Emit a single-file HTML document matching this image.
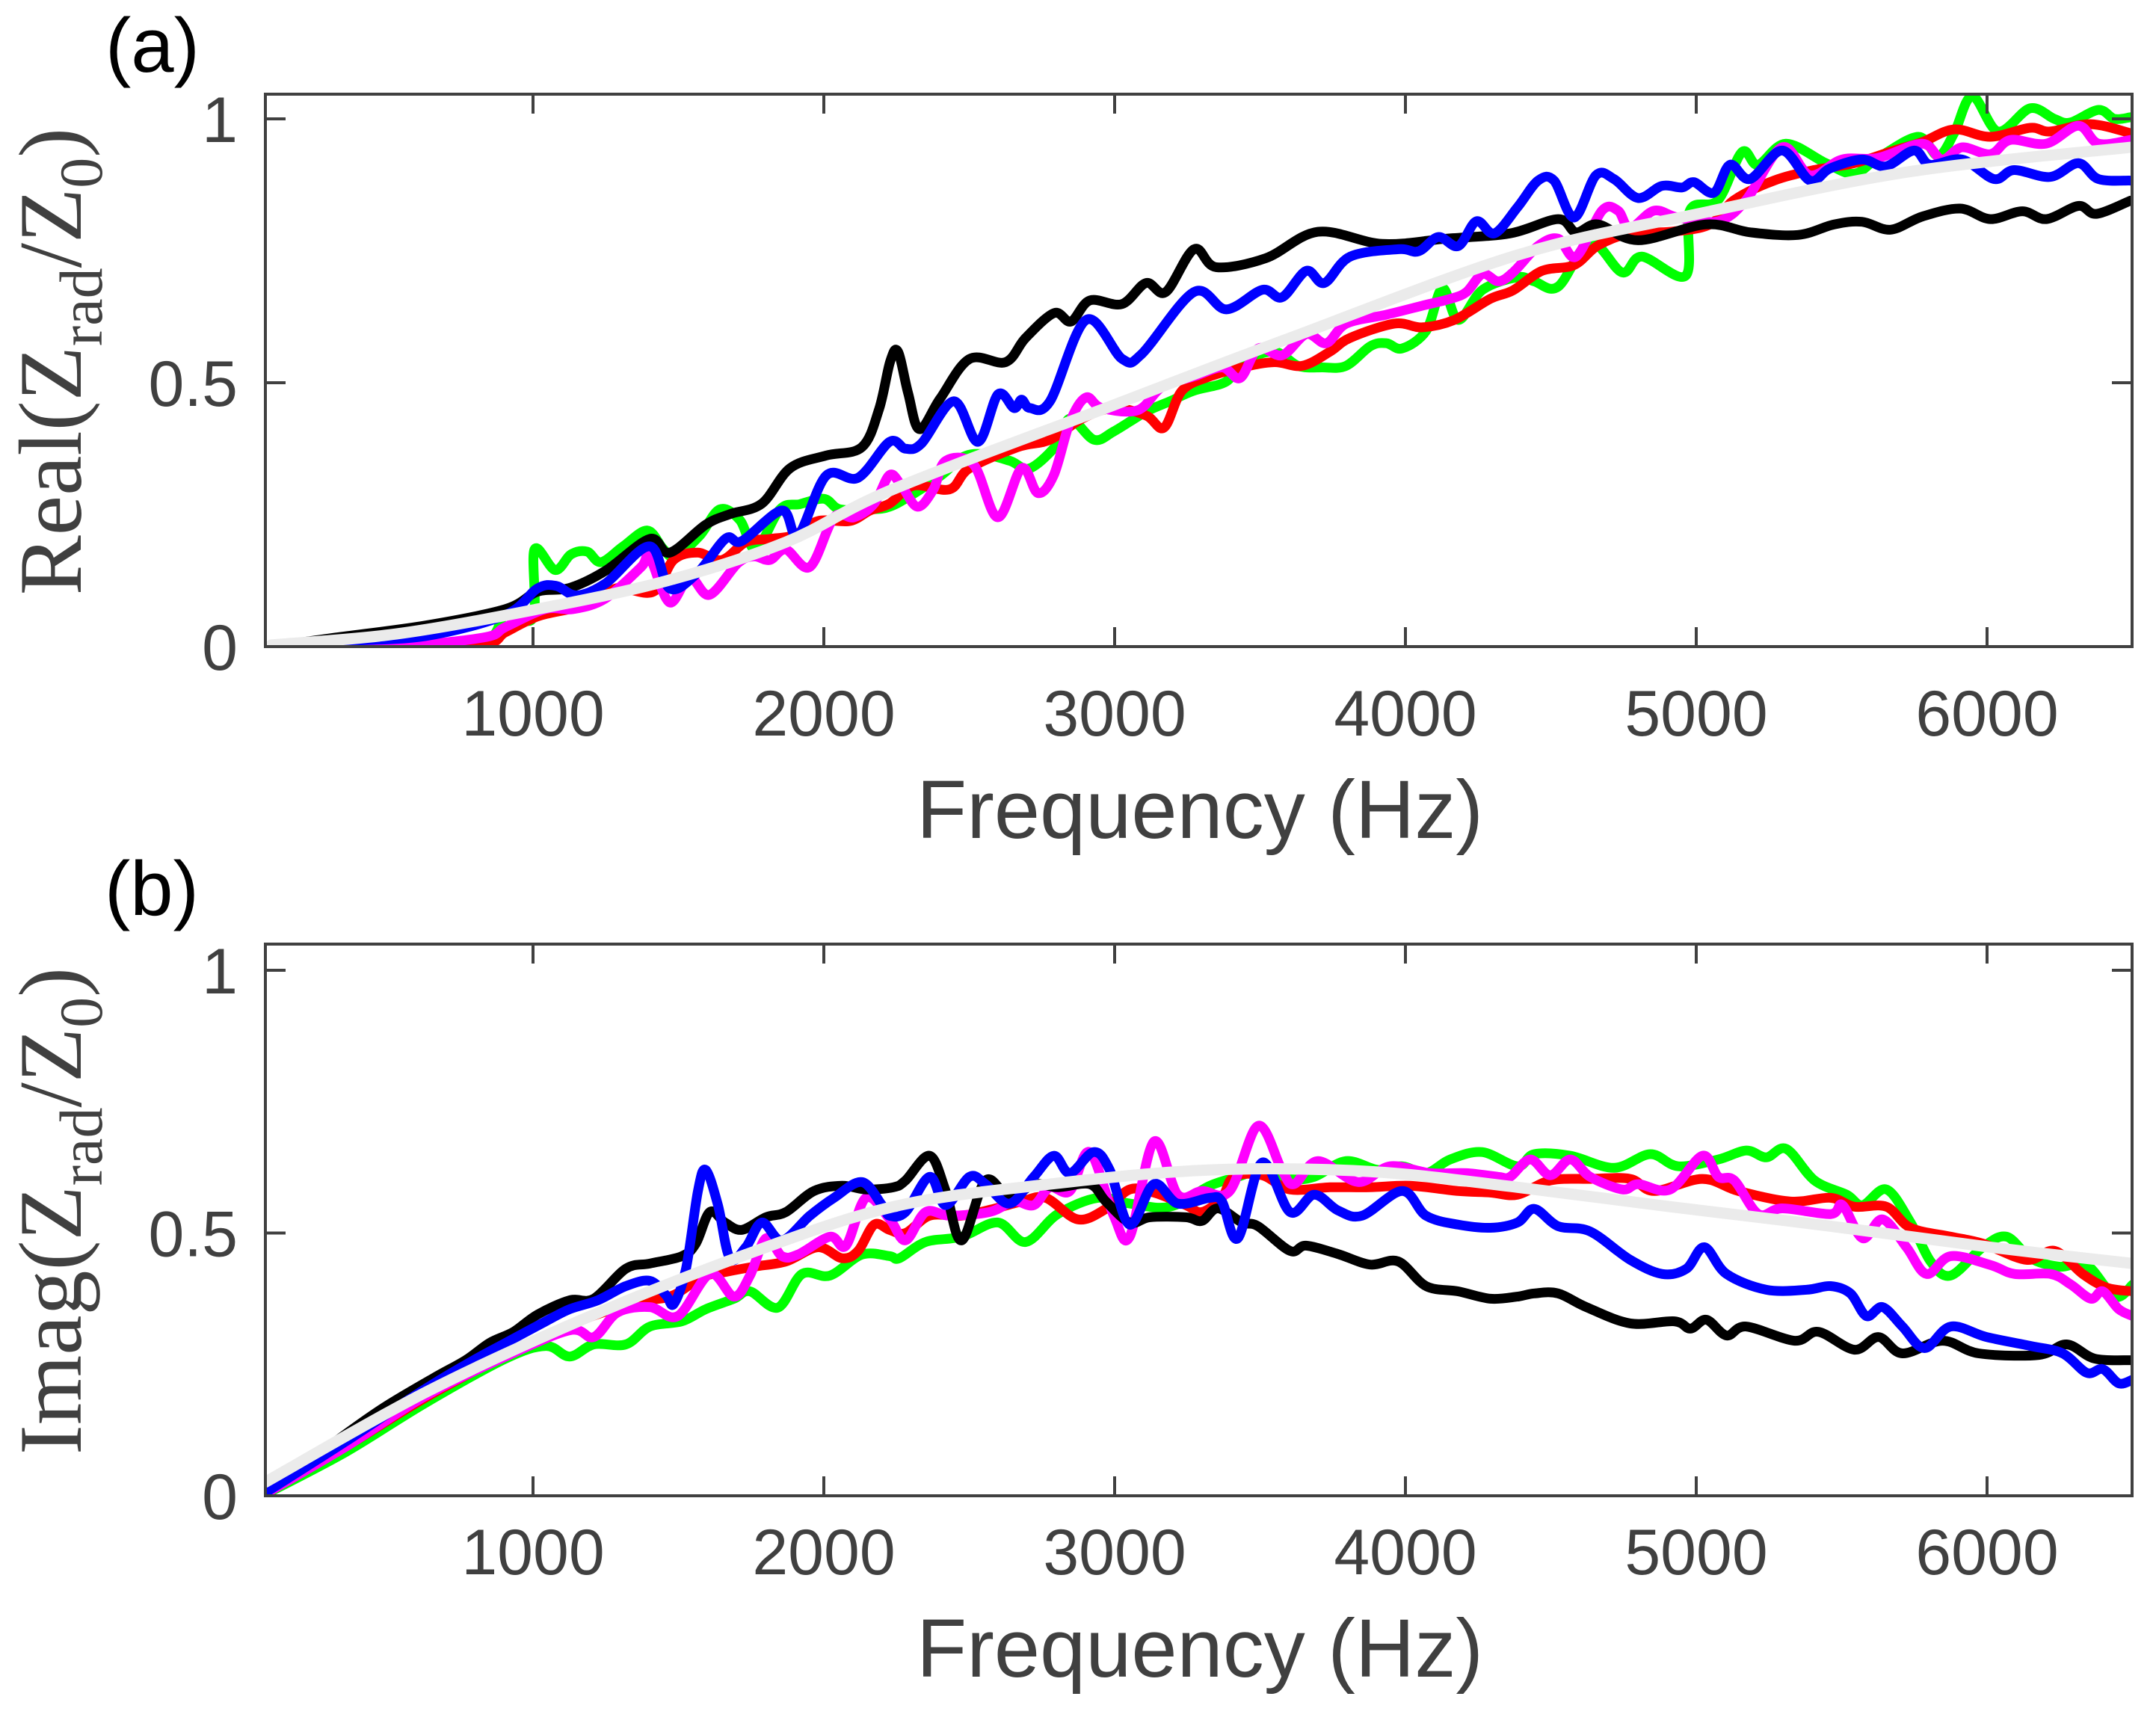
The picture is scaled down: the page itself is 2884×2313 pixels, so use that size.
<!DOCTYPE html>
<html><head><meta charset="utf-8"><style>
html,body{margin:0;padding:0;background:#fff;}
svg{display:block;}
text{font-family:"Liberation Sans",sans-serif;fill:#404040;}
</style></head><body>
<svg id="fig" width="2884" height="2313" viewBox="0 0 2884 2313" xmlns="http://www.w3.org/2000/svg">
<rect x="0" y="0" width="2884" height="2313" fill="#fff"/>
<defs>
<clipPath id="clipA"><rect x="355" y="126" width="2497" height="739"/></clipPath>
<clipPath id="clipB"><rect x="355" y="1263" width="2497" height="738"/></clipPath>
</defs>
<text x="141" y="96" font-size="103" style="fill:#000">(a)</text>
<text x="140" y="1224" font-size="103" style="fill:#000">(b)</text>
<g id="panelA"></g>
<g id="panelB"></g>
</svg>
<script>
// ---- Panel (a): Real part data ----
const xTicks = [1000,2000,3000,4000,5000,6000];
const yTicks = [0,0.5,1];
const yTickLabels = ["0","0.5","1"];

const aBlackF = [100,320,630,905,1015,1125,1250,1401,1470,1594,1677,1787,1884,2008,2131,2190,2228,2255,2290,2329,2400,2501,2625,2694,2792,2850,2915,3025,3108,3176,3273,3349,3520,3699,3920,4140,4360,4525,4587,4662,4800,5033,5185,5350,5474,5570,5668,5778,5908,6011,6121,6204,6314,6376,6493];
const aBlackV = [0,0.017,0.04,0.071,0.104,0.111,0.144,0.204,0.178,0.231,0.251,0.271,0.338,0.362,0.378,0.45,0.54,0.559,0.48,0.412,0.47,0.545,0.539,0.585,0.632,0.616,0.656,0.649,0.689,0.672,0.753,0.719,0.736,0.786,0.763,0.773,0.783,0.81,0.785,0.80,0.77,0.80,0.785,0.78,0.80,0.805,0.79,0.815,0.83,0.81,0.825,0.81,0.835,0.82,0.845];
const aBlueF = [100,320,630,905,1015,1080,1150,1250,1401,1470,1566,1663,1718,1856,1911,2008,2118,2226,2281,2336,2447,2530,2599,2654,2680,2709,2778,2902,3026,3094,3273,3384,3508,3576,3659,3721,3810,3976,4045,4113,4182,4244,4306,4386,4456,4511,4580,4655,4717,4800,4882,4951,4992,5061,5116,5185,5295,5391,5460,5570,5652,5749,5804,5914,6024,6093,6217,6314,6383,6493];
const aBlueV = [0,0.01,0.02,0.06,0.11,0.115,0.097,0.12,0.19,0.11,0.14,0.205,0.2,0.258,0.21,0.324,0.32,0.388,0.375,0.385,0.465,0.388,0.478,0.452,0.468,0.452,0.465,0.619,0.545,0.555,0.672,0.639,0.676,0.662,0.712,0.689,0.739,0.753,0.749,0.776,0.759,0.806,0.783,0.833,0.883,0.883,0.813,0.893,0.886,0.85,0.873,0.87,0.88,0.86,0.913,0.886,0.94,0.883,0.906,0.923,0.91,0.94,0.913,0.923,0.886,0.903,0.89,0.916,0.886,0.883];
const aGreenF = [100,500,827,905,1000,1005,1076,1131,1186,1234,1310,1393,1448,1490,1573,1642,1711,1766,1849,1918,2001,2056,2166,2226,2295,2405,2474,2543,2640,2709,2805,2847,2929,2998,3108,3191,3273,3383,3439,3549,3631,3714,3796,3879,3934,3989,4072,4127,4182,4265,4386,4443,4525,4635,4745,4813,4964,4978,5075,5157,5212,5308,5446,5543,5625,5763,5832,5887,5949,6038,6148,6231,6286,6383,6438,6493];
const aGreenV = [0,0,0.01,0.06,0.055,0.184,0.145,0.175,0.18,0.16,0.19,0.22,0.185,0.17,0.21,0.26,0.24,0.185,0.26,0.27,0.28,0.26,0.26,0.265,0.285,0.325,0.358,0.365,0.352,0.338,0.385,0.432,0.392,0.408,0.445,0.465,0.485,0.502,0.539,0.559,0.532,0.529,0.532,0.569,0.575,0.565,0.599,0.679,0.619,0.676,0.70,0.692,0.682,0.766,0.709,0.739,0.703,0.826,0.846,0.937,0.913,0.953,0.916,0.896,0.926,0.966,0.93,0.973,1.043,0.976,1.02,1.0,0.993,1.017,1.0,1.003];
const aRedF = [100,500,827,905,1015,1125,1221,1290,1414,1483,1566,1649,1732,1814,1897,1980,2090,2159,2226,2309,2433,2501,2667,2778,2888,2998,3108,3170,3232,3328,3439,3549,3645,3741,3810,3962,4058,4168,4292,4370,4470,4580,4662,4772,4910,5047,5130,5267,5405,5543,5680,5777,5887,6011,6148,6217,6355,6493];
const aRedV = [0,0,0.004,0.027,0.057,0.071,0.084,0.111,0.104,0.164,0.178,0.164,0.198,0.204,0.211,0.238,0.238,0.258,0.271,0.305,0.298,0.338,0.378,0.392,0.432,0.452,0.438,0.415,0.485,0.512,0.529,0.539,0.532,0.559,0.585,0.612,0.605,0.619,0.659,0.675,0.712,0.723,0.76,0.783,0.786,0.80,0.846,0.883,0.903,0.916,0.94,0.956,0.98,0.966,0.983,0.976,0.99,0.973];
const aMagF = [100,500,827,905,1042,1138,1248,1372,1400,1469,1538,1607,1704,1759,1814,1869,1952,2035,2104,2173,2226,2267,2322,2377,2419,2515,2598,2680,2736,2791,2846,2901,2956,3080,3163,3273,3370,3432,3494,3576,3659,3728,3797,3935,4058,4155,4210,4265,4320,4372,4456,4525,4587,4676,4731,4772,4855,4937,5075,5171,5295,5391,5501,5625,5777,5845,5914,6011,6080,6203,6314,6383,6493];
const aMagV = [0,0,0.017,0.037,0.071,0.071,0.091,0.151,0.171,0.084,0.131,0.098,0.158,0.171,0.164,0.184,0.151,0.245,0.245,0.271,0.325,0.305,0.265,0.298,0.352,0.345,0.245,0.338,0.291,0.325,0.425,0.472,0.452,0.448,0.492,0.512,0.529,0.509,0.565,0.552,0.592,0.575,0.612,0.629,0.646,0.659,0.672,0.706,0.692,0.71,0.759,0.773,0.739,0.826,0.826,0.793,0.826,0.813,0.806,0.846,0.946,0.893,0.923,0.926,0.953,0.923,0.946,0.933,0.96,0.953,0.987,0.953,0.96];
const aFitF = [100,530,1006,1455,1870,2238,2998,3604,4386,5006,5735,6493];
const aFitV = [0.003,0.024,0.07,0.124,0.198,0.298,0.458,0.585,0.742,0.82,0.9,0.946];

// ---- Panel (b): Imag part data ----
const bBlackF = [80,355,493,658,768,851,933,1016,1126,1209,1319,1402,1512,1560,1608,1660,1718,1801,1870,1966,2063,2145,2239,2281,2364,2419,2474,2556,2639,2722,2804,2915,2970,3052,3121,3245,3300,3355,3438,3493,3603,3658,3768,3878,3975,4071,4181,4292,4385,4443,4525,4622,4773,4925,4980,5035,5104,5172,5338,5420,5544,5627,5709,5847,5971,6178,6274,6370,6494];
const bBlackV = [0.006,0.117,0.17,0.224,0.258,0.291,0.312,0.345,0.372,0.375,0.432,0.442,0.456,0.48,0.54,0.52,0.506,0.53,0.54,0.58,0.59,0.583,0.587,0.60,0.647,0.58,0.486,0.60,0.567,0.593,0.587,0.593,0.56,0.52,0.53,0.53,0.523,0.547,0.52,0.513,0.466,0.476,0.46,0.44,0.446,0.399,0.389,0.375,0.379,0.385,0.385,0.359,0.328,0.332,0.318,0.335,0.305,0.322,0.295,0.312,0.278,0.302,0.271,0.295,0.271,0.268,0.288,0.261,0.258];
const bBlueF = [80,355,631,796,906,1044,1126,1223,1319,1402,1457,1484,1526,1567,1594,1636,1677,1732,1787,1856,1952,2035,2131,2200,2226,2281,2364,2419,2501,2556,2639,2722,2791,2846,2928,2983,3052,3135,3217,3328,3369,3424,3507,3603,3686,3768,3851,3989,4071,4181,4292,4385,4443,4525,4635,4773,4883,4966,5028,5104,5241,5379,5462,5530,5585,5641,5709,5785,5875,5999,6150,6260,6343,6398,6453,6501];
const bBlueV = [0.006,0.103,0.204,0.258,0.291,0.332,0.355,0.372,0.399,0.409,0.382,0.365,0.432,0.58,0.62,0.553,0.452,0.473,0.52,0.486,0.533,0.567,0.597,0.553,0.533,0.54,0.607,0.553,0.607,0.593,0.556,0.607,0.647,0.614,0.654,0.62,0.516,0.593,0.556,0.567,0.56,0.49,0.634,0.54,0.573,0.543,0.533,0.58,0.533,0.516,0.51,0.52,0.546,0.513,0.503,0.449,0.422,0.432,0.473,0.422,0.392,0.392,0.399,0.385,0.342,0.359,0.322,0.281,0.322,0.302,0.285,0.271,0.234,0.241,0.214,0.221];
const bGreenF = [80,355,631,906,1044,1126,1209,1319,1402,1512,1594,1691,1746,1842,1925,2021,2131,2226,2260,2350,2474,2598,2694,2804,2942,3052,3190,3328,3424,3507,3603,3686,3796,3906,3989,4071,4154,4264,4385,4443,4567,4718,4842,4938,5076,5172,5241,5310,5407,5517,5572,5654,5737,5806,5875,5985,6067,6150,6247,6343,6439,6501];
const bGreenV = [0.003,0.083,0.177,0.261,0.285,0.265,0.288,0.288,0.322,0.332,0.355,0.375,0.389,0.358,0.422,0.419,0.459,0.456,0.452,0.483,0.493,0.52,0.483,0.536,0.567,0.556,0.55,0.59,0.607,0.62,0.603,0.607,0.637,0.62,0.627,0.614,0.64,0.654,0.627,0.65,0.647,0.624,0.65,0.627,0.64,0.657,0.644,0.66,0.60,0.573,0.553,0.583,0.52,0.446,0.419,0.473,0.493,0.452,0.436,0.439,0.379,0.402];
const bRedF = [80,355,631,906,1126,1291,1402,1484,1581,1663,1760,1870,1980,2063,2118,2173,2226,2281,2364,2474,2584,2680,2763,2873,2970,3052,3135,3245,3300,3369,3410,3507,3603,3741,3878,4016,4181,4292,4385,4498,4635,4773,4856,5021,5145,5324,5462,5544,5654,5737,5875,5985,6136,6233,6329,6412,6501];
const bRedV = [0.004,0.093,0.187,0.268,0.325,0.358,0.372,0.382,0.416,0.426,0.436,0.446,0.473,0.452,0.466,0.516,0.506,0.50,0.533,0.533,0.546,0.56,0.567,0.526,0.546,0.583,0.577,0.553,0.54,0.567,0.607,0.61,0.583,0.587,0.587,0.59,0.58,0.577,0.573,0.60,0.603,0.603,0.58,0.603,0.58,0.56,0.567,0.55,0.55,0.51,0.493,0.48,0.449,0.466,0.422,0.396,0.389];
const bMagF = [80,355,631,906,1126,1209,1291,1402,1498,1608,1691,1746,1801,1856,1911,2021,2076,2145,2226,2281,2350,2433,2570,2653,2722,2777,2846,2914,2997,3052,3135,3217,3300,3396,3493,3575,3617,3699,3837,3947,4085,4209,4319,4360,4429,4498,4567,4635,4746,4801,4911,5021,5076,5131,5214,5296,5462,5503,5572,5641,5723,5792,5875,6012,6095,6219,6288,6357,6398,6453,6501];
const bMagV = [0.004,0.093,0.19,0.265,0.315,0.302,0.349,0.359,0.342,0.422,0.379,0.419,0.49,0.456,0.459,0.493,0.476,0.567,0.527,0.486,0.54,0.533,0.54,0.56,0.553,0.587,0.58,0.654,0.533,0.493,0.674,0.573,0.58,0.58,0.704,0.62,0.593,0.637,0.597,0.627,0.614,0.614,0.607,0.607,0.64,0.61,0.64,0.607,0.583,0.593,0.583,0.647,0.607,0.60,0.536,0.547,0.536,0.553,0.49,0.526,0.473,0.422,0.456,0.439,0.422,0.422,0.402,0.375,0.389,0.355,0.342];
const bFitF = [80,631,1181,1732,2239,2777,3328,3878,4385,4911,5462,6012,6501];
const bFitV = [0.026,0.197,0.338,0.459,0.55,0.593,0.62,0.617,0.587,0.55,0.513,0.473,0.442];

// ---- axis functions ----
const X0 = 355, X1 = 2852;
function xScale(f){ return 713 + (f - 1000) * 0.389; }
function yScaleA(v){ return 865 - v * 706; }
function yScaleB(v){ return 2001 - v * 703; }
const NS = "http://www.w3.org/2000/svg";

function mk(tag, attrs, parent){
  const e = document.createElementNS(NS, tag);
  for (const k in attrs) e.setAttribute(k, attrs[k]);
  parent.appendChild(e);
  return e;
}
function smoothPath(F, V, ys){
  const p = F.map((f,i)=>[xScale(f), ys(V[i])]);
  let d = "M" + p[0][0].toFixed(1) + "," + p[0][1].toFixed(1);
  for (let i=0;i<p.length-1;i++){
    const p0 = p[i-1]||p[i], p1=p[i], p2=p[i+1], p3=p[i+2]||p[i+1];
    const c1x = p1[0]+(p2[0]-p0[0])/6, c1y = p1[1]+(p2[1]-p0[1])/6;
    const c2x = p2[0]-(p3[0]-p1[0])/6, c2y = p2[1]-(p3[1]-p1[1])/6;
    d += " C"+c1x.toFixed(1)+","+c1y.toFixed(1)+" "+c2x.toFixed(1)+","+c2y.toFixed(1)+" "+p2[0].toFixed(1)+","+p2[1].toFixed(1);
  }
  return d;
}

function drawPanel(g, top, bottom, ys, clipId, series, yName, prefix, tickBase){
  const gs = mk("g", {"clip-path":"url(#"+clipId+")"}, g);
  
  
  series.forEach(s=>{
    const path = mk("path", {d: smoothPath(s.F, s.V, ys), fill:"none", stroke:s.color, "stroke-width":s.w, "stroke-linejoin":"round", "stroke-linecap":"round"}, gs);
    
    
  });
  const box = mk("rect", {x:X0, y:top, width:X1-X0, height:bottom-top, fill:"none", stroke:"#404040", "stroke-width":4}, g);
  
  
  xTicks.forEach(t=>{
    const x = xScale(t);
    const t1 = mk("line", {x1:x, x2:x, y1:bottom, y2:bottom-26, stroke:"#404040", "stroke-width":4}, g);
    
    
    const t2 = mk("line", {x1:x, x2:x, y1:top, y2:top+26, stroke:"#404040", "stroke-width":4}, g);
    
    
    const lab = mk("text", {x:x, y:tickBase, "text-anchor":"middle", "font-size":86}, g);
    lab.textContent = String(t);
    
    
  });
  yTicks.forEach((t,i)=>{
    const y = ys(t);
    const l1 = mk("line", {x1:X0, x2:X0+27, y1:y, y2:y, stroke:"#404040", "stroke-width":4}, g);
    
    
    const l2 = mk("line", {x1:X1, x2:X1-27, y1:y, y2:y, stroke:"#404040", "stroke-width":4}, g);
    
    
    const lab = mk("text", {x:318, y:y+31, "text-anchor":"end", "font-size":86}, g);
    lab.textContent = yTickLabels[i];
    
    
  });
  const xl = mk("text", {x:1605, y:tickBase+137, "text-anchor":"middle", "font-size":110}, g);
  xl.textContent = "Frequency (Hz)";
  
  
  const cy = (top+bottom)/2 - 12;
  const yl = mk("text", {x:0, y:0, "text-anchor":"middle", "font-size":120, transform:"translate(108,"+cy+") rotate(-90)", style:"font-family:'Liberation Serif',serif;fill:#404040"}, g);
  
  
  yl.innerHTML = yName + '(Z<tspan font-size="82" dy="28">rad</tspan><tspan dy="-28">/Z</tspan><tspan font-size="82" dy="28">0</tspan><tspan dy="-28">)</tspan>';
}

drawPanel(document.getElementById("panelA"), 126, 865, yScaleA, "clipA", [
  {name:"green-line", F:aGreenF, V:aGreenV, color:"#00ff00", w:13},
  {name:"red-line", F:aRedF, V:aRedV, color:"#ff0000", w:13},
  {name:"magenta-line", F:aMagF, V:aMagV, color:"#ff00ff", w:13},
  {name:"black-line", F:aBlackF, V:aBlackV, color:"#000000", w:13},
  {name:"blue-line", F:aBlueF, V:aBlueV, color:"#0000ff", w:13},
  {name:"fit-line", F:aFitF, V:aFitV, color:"#ebebeb", w:15}
], "Real", "real-plot", 984);

drawPanel(document.getElementById("panelB"), 1263, 2001, yScaleB, "clipB", [
  {name:"green-line", F:bGreenF, V:bGreenV, color:"#00ff00", w:13},
  {name:"red-line", F:bRedF, V:bRedV, color:"#ff0000", w:13},
  {name:"magenta-line", F:bMagF, V:bMagV, color:"#ff00ff", w:13},
  {name:"black-line", F:bBlackF, V:bBlackV, color:"#000000", w:13},
  {name:"blue-line", F:bBlueF, V:bBlueV, color:"#0000ff", w:13},
  {name:"fit-line", F:bFitF, V:bFitV, color:"#ebebeb", w:15}
], "Imag", "imag-plot", 2106);
</script>
</body></html>
